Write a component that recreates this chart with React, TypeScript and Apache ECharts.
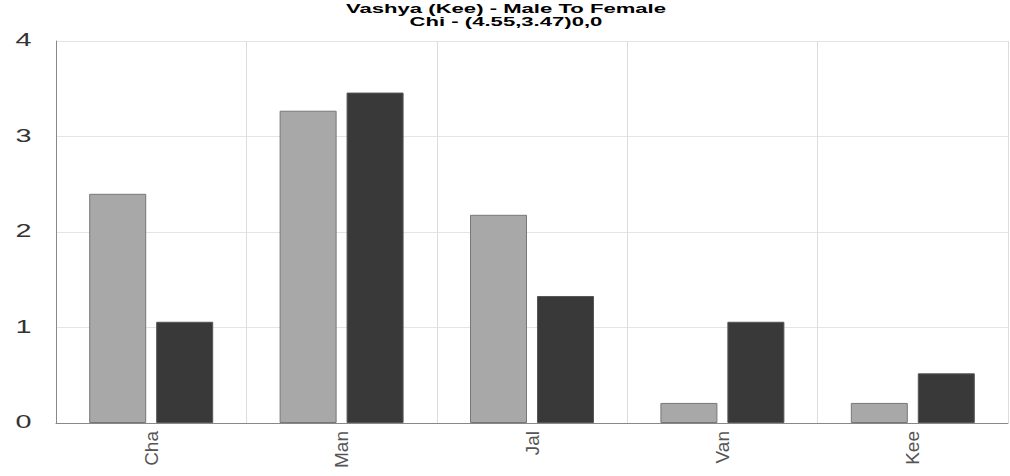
import React, { useEffect, useRef } from "react";
import * as echarts from "echarts";

const categories = ["Cha", "Man", "Jal", "Van", "Kee"];
const maleValues = [2.4, 3.27, 2.18, 0.21, 0.21];
const femaleValues = [1.06, 3.46, 1.33, 1.06, 0.52];
const yTicks = [0, 1, 2, 3, 4];
const titleLines = ["Vashya (Kee) - Male To Female", "Chi - (4.55,3.47)0,0"];

export default function App() {
  const ref = useRef<HTMLDivElement>(null);
  useEffect(() => {
    if (!ref.current) return;
    const chart = echarts.init(ref.current, null, { renderer: "svg" });
    chart.setOption({
      animation: false,
      backgroundColor: "#ffffff",
      grid: { left: 56, right: 2, top: 41, bottom: 53, containLabel: false },
      xAxis: {
        type: "category",
        data: categories,
        axisLine: { show: true, lineStyle: { color: "#888", width: 1 } },
        axisTick: { show: false },
        splitLine: { show: true, lineStyle: { color: "#dcdcdc", width: 1 } },
        axisLabel: {
          rotate: 90,
          interval: 0,
          margin: 8,
          fontSize: 19,
          color: "#555",
          fontFamily: "Liberation Sans Narrow, Liberation Sans, Arial, sans-serif",
        },
      },
      yAxis: {
        type: "value",
        min: 0,
        max: 4,
        interval: 1,
        axisLine: { show: true, lineStyle: { color: "#888", width: 1 } },
        axisTick: { show: false },
        splitLine: { show: true, lineStyle: { color: "#e4e4e4", width: 1 } },
        axisLabel: { show: false },
      },
      series: [
        {
          type: "bar",
          data: maleValues,
          barWidth: 57,
          barGap: "17.5%",
          itemStyle: { color: "#a8a8a8", borderColor: "#777", borderWidth: 1 },
        },
        {
          type: "bar",
          data: femaleValues,
          barWidth: 57,
          barGap: "17.5%",
          itemStyle: { color: "#393939", borderColor: "#555", borderWidth: 1 },
        },
      ],
    });

    const labelEls = yTicks.map((v) => {
      const py = chart.convertToPixel({ yAxisIndex: 0 }, v) as number;
      return {
        type: "text",
        x: 23.5,
        y: py - 1,
        scaleX: 1.6,
        silent: true,
        style: {
          text: String(v),
          font: "18px 'Liberation Sans', Arial, sans-serif",
          fill: "#333",
          textAlign: "center",
          textVerticalAlign: "middle",
        },
      };
    });
    const titleEls = titleLines.map((t, i) => ({
      type: "text",
      x: 506,
      y: 8.5 + i * 13,
      scaleX: 1.7,
      silent: true,
      style: {
        text: t,
        font: "bold 13px 'Liberation Sans', Arial, sans-serif",
        fill: "#000",
        textAlign: "center",
        textVerticalAlign: "middle",
      },
    }));
    chart.setOption({ graphic: [...titleEls, ...labelEls] });

    return () => chart.dispose();
  }, []);
  return (
    <div
      ref={ref}
      style={{ position: "fixed", left: 0, top: 0, width: 1010, height: 476 }}
    />
  );
}
